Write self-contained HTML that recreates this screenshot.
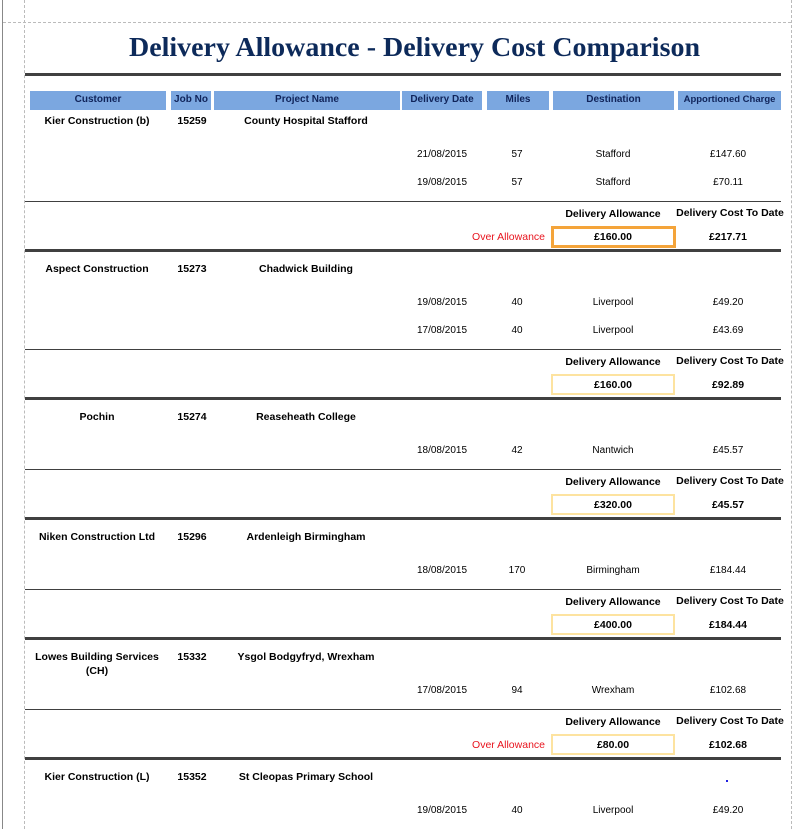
<!DOCTYPE html>
<html><head><meta charset="utf-8"><style>
body{margin:0;width:799px;height:829px;position:relative;overflow:hidden;background:#fff;font-family:"Liberation Sans",sans-serif;}
.a{position:absolute;}
.t{position:absolute;width:240px;text-align:center;font-size:10px;line-height:14px;color:#000;white-space:nowrap;margin-top:1px;}
.b{font-weight:bold;font-size:10.5px;}
.h{position:absolute;top:91px;height:19px;background:#7ba7e0;color:#10245a;font-size:10px;font-weight:bold;line-height:17px;text-align:center;white-space:nowrap;}
.thick{position:absolute;left:25px;width:756px;height:3px;background:#404040;}
.thin{position:absolute;left:25px;width:756px;height:1px;background:#404040;}
.box{position:absolute;left:551px;width:120px;height:17px;border:2px solid #fde3a0;}
.red{position:absolute;width:200px;text-align:right;font-size:10.5px;line-height:14px;color:#e8141e;margin-top:1px;}
</style></head><body>
<div class="a" style="left:2px;top:0;width:1px;height:829px;background:#888"></div>
<div class="a" style="left:24px;top:0;height:829px;border-left:1px dashed #bbb"></div>
<div class="a" style="left:791px;top:0;height:829px;border-left:1px dashed #bbb"></div>
<div class="a" style="left:3px;top:22px;width:788px;border-top:1px dashed #bbb"></div>
<svg class="a" style="left:0;top:0" width="799" height="70"><text x="129" y="56" textLength="571" lengthAdjust="spacingAndGlyphs" font-family="Liberation Serif,serif" font-weight="bold" font-size="27" fill="#0d2a5a">Delivery Allowance - Delivery Cost Comparison</text></svg>
<div class="thick" style="top:73px"></div>
<div class="h" style="left:30px;width:136px">Customer</div>
<div class="h" style="left:171px;width:40px">Job No</div>
<div class="h" style="left:214px;width:186px">Project Name</div>
<div class="h" style="left:402px;width:80px">Delivery Date</div>
<div class="h" style="left:487px;width:62px">Miles</div>
<div class="h" style="left:553px;width:121px">Destination</div>
<div class="h" style="left:678px;width:103px;font-size:9.5px">Apportioned Charge</div>

<!-- sec1 -->
<div class="t b" style="left:-23px;top:113px">Kier Construction (b)</div>
<div class="t b" style="left:72px;top:113px">15259</div>
<div class="t b" style="left:186px;top:113px">County Hospital Stafford</div>
<div class="t" style="left:322px;top:147px">21/08/2015</div><div class="t" style="left:397px;top:147px">57</div><div class="t" style="left:493px;top:147px">Stafford</div><div class="t" style="left:608px;top:147px">£147.60</div>
<div class="t" style="left:322px;top:175px">19/08/2015</div><div class="t" style="left:397px;top:175px">57</div><div class="t" style="left:493px;top:175px">Stafford</div><div class="t" style="left:608px;top:175px">£70.11</div>
<div class="thin" style="top:201px"></div>
<div class="t b" style="left:493px;top:206px">Delivery Allowance</div>
<div class="t b" style="left:610px;top:205px">Delivery Cost To Date</div>
<div class="red" style="left:345px;top:229px">Over Allowance</div>
<div class="box" style="top:226px;border:3px solid #f4a43a;width:119px;height:16px"></div>
<div class="t b" style="left:493px;top:229px">£160.00</div>
<div class="t b" style="left:608px;top:229px">£217.71</div>
<div class="thick" style="top:249px"></div>

<!-- sec2 -->
<div class="t b" style="left:-23px;top:261px">Aspect Construction</div>
<div class="t b" style="left:72px;top:261px">15273</div>
<div class="t b" style="left:186px;top:261px">Chadwick Building</div>
<div class="t" style="left:322px;top:295px">19/08/2015</div><div class="t" style="left:397px;top:295px">40</div><div class="t" style="left:493px;top:295px">Liverpool</div><div class="t" style="left:608px;top:295px">£49.20</div>
<div class="t" style="left:322px;top:323px">17/08/2015</div><div class="t" style="left:397px;top:323px">40</div><div class="t" style="left:493px;top:323px">Liverpool</div><div class="t" style="left:608px;top:323px">£43.69</div>
<div class="thin" style="top:349px"></div>
<div class="t b" style="left:493px;top:354px">Delivery Allowance</div>
<div class="t b" style="left:610px;top:353px">Delivery Cost To Date</div>
<div class="box" style="top:374px"></div>
<div class="t b" style="left:493px;top:377px">£160.00</div>
<div class="t b" style="left:608px;top:377px">£92.89</div>
<div class="thick" style="top:397px"></div>

<!-- sec3 -->
<div class="t b" style="left:-23px;top:409px">Pochin</div>
<div class="t b" style="left:72px;top:409px">15274</div>
<div class="t b" style="left:186px;top:409px">Reaseheath College</div>
<div class="t" style="left:322px;top:443px">18/08/2015</div><div class="t" style="left:397px;top:443px">42</div><div class="t" style="left:493px;top:443px">Nantwich</div><div class="t" style="left:608px;top:443px">£45.57</div>
<div class="thin" style="top:469px"></div>
<div class="t b" style="left:493px;top:474px">Delivery Allowance</div>
<div class="t b" style="left:610px;top:473px">Delivery Cost To Date</div>
<div class="box" style="top:494px"></div>
<div class="t b" style="left:493px;top:497px">£320.00</div>
<div class="t b" style="left:608px;top:497px">£45.57</div>
<div class="thick" style="top:517px"></div>

<!-- sec4 -->
<div class="t b" style="left:-23px;top:529px">Niken Construction Ltd</div>
<div class="t b" style="left:72px;top:529px">15296</div>
<div class="t b" style="left:186px;top:529px">Ardenleigh Birmingham</div>
<div class="t" style="left:322px;top:563px">18/08/2015</div><div class="t" style="left:397px;top:563px">170</div><div class="t" style="left:493px;top:563px">Birmingham</div><div class="t" style="left:608px;top:563px">£184.44</div>
<div class="thin" style="top:589px"></div>
<div class="t b" style="left:493px;top:594px">Delivery Allowance</div>
<div class="t b" style="left:610px;top:593px">Delivery Cost To Date</div>
<div class="box" style="top:614px"></div>
<div class="t b" style="left:493px;top:617px">£400.00</div>
<div class="t b" style="left:608px;top:617px">£184.44</div>
<div class="thick" style="top:637px"></div>

<!-- sec5 -->
<div class="t b" style="left:-23px;top:649px">Lowes Building Services</div>
<div class="t b" style="left:-23px;top:663px">(CH)</div>
<div class="t b" style="left:72px;top:649px">15332</div>
<div class="t b" style="left:186px;top:649px">Ysgol Bodgyfryd, Wrexham</div>
<div class="t" style="left:322px;top:683px">17/08/2015</div><div class="t" style="left:397px;top:683px">94</div><div class="t" style="left:493px;top:683px">Wrexham</div><div class="t" style="left:608px;top:683px">£102.68</div>
<div class="thin" style="top:709px"></div>
<div class="t b" style="left:493px;top:714px">Delivery Allowance</div>
<div class="t b" style="left:610px;top:713px">Delivery Cost To Date</div>
<div class="red" style="left:345px;top:737px">Over Allowance</div>
<div class="box" style="top:734px"></div>
<div class="t b" style="left:493px;top:737px">£80.00</div>
<div class="t b" style="left:608px;top:737px">£102.68</div>
<div class="thick" style="top:757px"></div>

<!-- sec6 -->
<div class="t b" style="left:-23px;top:769px">Kier Construction (L)</div>
<div class="t b" style="left:72px;top:769px">15352</div>
<div class="t b" style="left:186px;top:769px">St Cleopas Primary School</div>
<div class="a" style="left:726px;top:780px;width:2px;height:2px;background:#2020e0"></div>
<div class="t" style="left:322px;top:803px">19/08/2015</div><div class="t" style="left:397px;top:803px">40</div><div class="t" style="left:493px;top:803px">Liverpool</div><div class="t" style="left:608px;top:803px">£49.20</div>
</body></html>
